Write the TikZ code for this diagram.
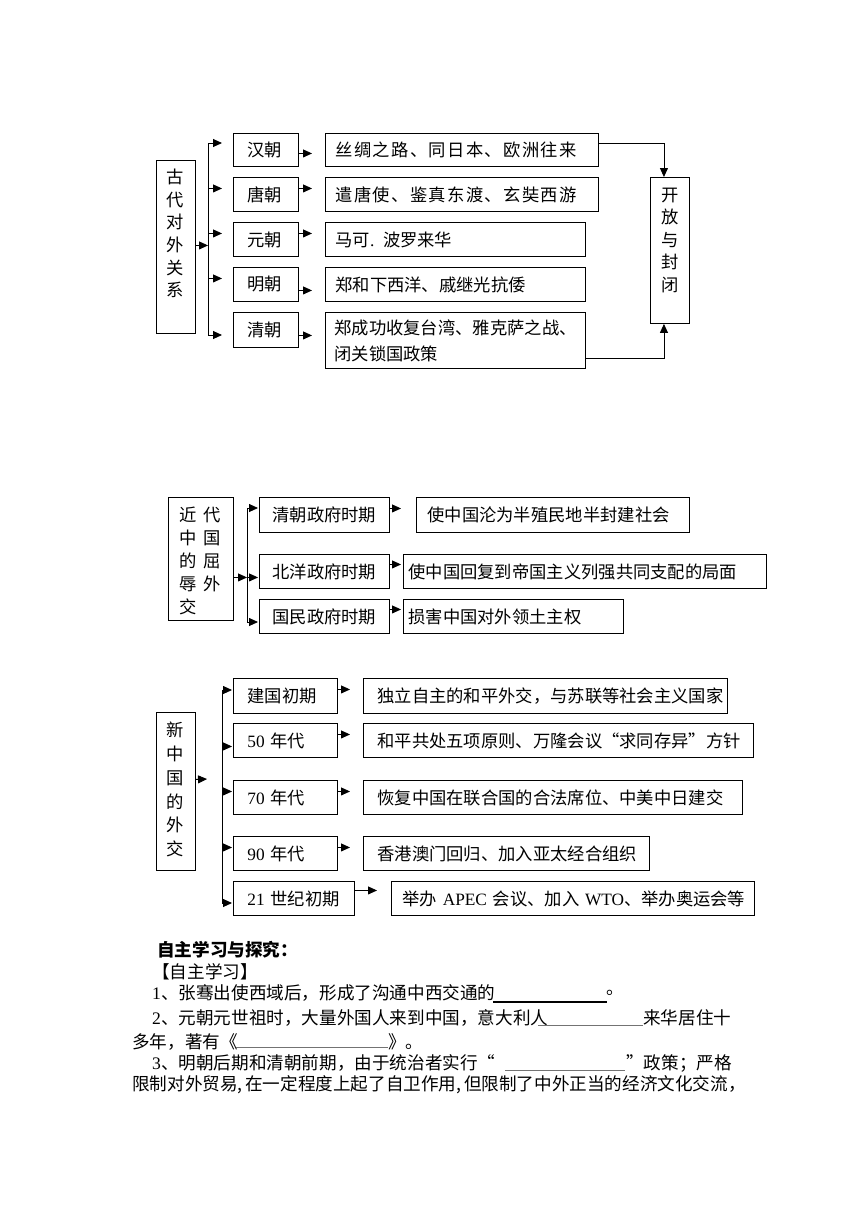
\documentclass[tikz,border=0pt]{standalone}
\usepackage{fontspec}
\setmainfont{Noto Sans CJK SC}
\newfontfamily\tms{Liberation Serif}
\newfontfamily\cjkls[LetterSpace=8]{Noto Sans CJK SC}
\usetikzlibrary{arrows.meta}
\tikzset{
 box/.style={draw, line width=0.9pt, anchor=north west, inner ysep=0pt, align=left, font=\fontsize{17.3}{23}\selectfont},
 vtxt/.style={align=center, inner sep=0pt, font=\fontsize{17.3}{22.7}\selectfont},
 arr/.style={line width=0.9pt, -{Triangle[length=9pt,width=8pt]}},
 ln/.style={line width=0.9pt},
 body/.style={anchor=west, inner sep=0pt, font=\fontsize{17.6}{22}\selectfont},
 uline/.style={line width=0.6pt, draw=black!55},
}
\begin{document}
\begin{tikzpicture}[x=1pt,y=-1pt]
\fill[white] (0,0) rectangle (860,1216);
\useasboundingbox (0,0) rectangle (860,1216);

% ---------------- top diagram ----------------
\node[box, minimum width=39pt, minimum height=173pt] (gudai) at (156,160) {};
\node[vtxt] (gudaiT) at (175.5,233.5) {古\\代\\对\\外\\关\\系};

\node[box, minimum width=65pt, minimum height=33pt, inner xsep=14pt, text width=37pt] (han) at (233,133) {汉朝};
\node[box, minimum width=65pt, minimum height=34pt, inner xsep=14pt, text width=37pt] (tang) at (233,177) {唐朝};
\node[box, minimum width=65pt, minimum height=34pt, inner xsep=14pt, text width=37pt] (yuan) at (233,222) {元朝};
\node[box, minimum width=65pt, minimum height=34pt, inner xsep=14pt, text width=37pt] (ming) at (233,267) {明朝};
\node[box, minimum width=65pt, minimum height=35pt, inner xsep=14pt, text width=37pt] (qing) at (233,312) {清朝};

\node[box, minimum width=273pt, minimum height=33pt, inner xsep=10pt, text width=253pt] (hanc) at (325,133) {\cjkls 丝绸之路、同日本、欧洲往来};
\node[box, minimum width=273pt, minimum height=34pt, inner xsep=10pt, text width=253pt] (tangc) at (325,177) {\cjkls 遣唐使、鉴真东渡、玄奘西游};
\node[box, minimum width=260pt, minimum height=34pt, inner xsep=10pt, text width=240pt] (yuanc) at (325,222) {马可{\tms .} 波罗来华};
\node[box, minimum width=260pt, minimum height=34pt, inner xsep=10pt, text width=240pt] (mingc) at (325,267) {郑和下西洋、戚继光抗倭};
\node[box, minimum width=260pt, minimum height=56pt, inner xsep=9pt, text width=242pt, font=\fontsize{17.3}{26}\selectfont] (qingc) at (325,312) {郑成功收复台湾、雅克萨之战、\\闭关锁国政策};

\node[box, minimum width=39pt, minimum height=146pt] (kf) at (650,177) {};
\node[vtxt, font=\fontsize{17.3}{22.5}\selectfont] (kfT) at (670,240) {开\\放\\与\\封\\闭};

\coordinate (b1t) at (208,143);
\coordinate (b1b) at (208,335);
\draw[ln] (b1t) -- (b1b);
\draw[arr] ([yshift=1.5pt]gudai.east) -- ([yshift=1.5pt]gudai.east -| b1t);
\draw[arr, shorten >=11pt] (b1t) -- (b1t -| han.west);
\draw[arr, shorten >=11pt] ([yshift=6pt]tang.west -| b1t) -- ([yshift=6pt]tang.west);
\draw[arr, shorten >=11pt] ([yshift=6pt]yuan.west -| b1t) -- ([yshift=6pt]yuan.west);
\draw[arr, shorten >=11pt] ([yshift=6pt]ming.west -| b1t) -- ([yshift=6pt]ming.west);
\draw[arr, shorten >=11pt] (b1b) -- (b1b -| qing.west);

\draw[arr, shorten >=13pt] ([yshift=-3.5pt]han.east) -- ([yshift=-3.5pt]han.east -| hanc.west);
\draw[arr, shorten >=13pt] ([yshift=6pt]tang.east) -- ([yshift=6pt]tang.east -| tangc.west);
\draw[arr, shorten >=13pt] ([yshift=6pt]yuan.east) -- ([yshift=6pt]yuan.east -| yuanc.west);
\draw[arr, shorten >=13pt] ([yshift=-6pt]ming.east) -- ([yshift=-6pt]ming.east -| mingc.west);
\draw[arr, shorten >=13pt] ([yshift=-5.5pt]qing.east) -- ([yshift=-5.5pt]qing.east -| qingc.west);

\draw[arr] ([yshift=6.5pt]hanc.east) -| ([xshift=-6pt]kf.north);
\draw[arr] ([yshift=-18pt]qingc.east) -| ([xshift=-6pt]kf.south);

% ---------------- middle diagram ----------------
\node[box, minimum width=65pt, minimum height=123pt] (jd) at (168,497) {};
\node[vtxt, align=left, anchor=west, font=\fontsize{17.3}{23}\selectfont] (jdT) at (179,561) {近\hspace{7pt}代\\中\hspace{7pt}国\\的\hspace{7pt}屈\\辱\hspace{7pt}外\\交};

\node[box, minimum width=130pt, minimum height=35pt, inner xsep=13pt, text width=104pt] (qz) at (259,497) {清朝政府时期};
\node[box, minimum width=130pt, minimum height=34pt, inner xsep=13pt, text width=104pt] (by) at (259,554) {北洋政府时期};
\node[box, minimum width=130pt, minimum height=34pt, inner xsep=13pt, text width=104pt] (gm) at (259,599) {国民政府时期};

\node[box, minimum width=273pt, minimum height=35pt, inner xsep=11pt, text width=251pt] (qzc) at (416,497) {使中国沦为半殖民地半封建社会};
\node[box, minimum width=363pt, minimum height=34pt, inner xsep=5pt, text width=353pt] (byc) at (403,554) {使中国回复到帝国主义列强共同支配的局面};
\node[box, minimum width=220pt, minimum height=34pt, inner xsep=5pt, text width=210pt] (gmc) at (403,599) {损害中国对外领土主权};

\coordinate (b2t) at (247,508);
\coordinate (b2b) at (247,622);
\draw[ln] (b2t) -- (b2b);
\draw[arr] ([yshift=-18.5pt]jd.east) -- ([yshift=-18.5pt]jd.east -| b2t);
\draw[arr, shorten >=1pt] (b2t) -- (b2t -| qz.west);
\draw[arr, shorten >=1pt] ([yshift=-6pt]by.west -| b2t) -- ([yshift=-6pt]by.west);
\draw[arr, shorten >=1pt] (b2b) -- (b2b -| gm.west);

\draw[arr, shorten >=15pt] ([yshift=6.5pt]qz.east) -- ([yshift=6.5pt]qz.east -| qzc.west);
\draw[arr, shorten >=2pt] ([yshift=7pt]by.east) -- ([yshift=7pt]by.east -| byc.west);
\draw[arr, shorten >=2pt] ([yshift=7pt]gm.east) -- ([yshift=7pt]gm.east -| gmc.west);

% ---------------- bottom diagram ----------------
\node[box, minimum width=39pt, minimum height=158pt] (xin) at (156,712) {};
\node[vtxt, font=\fontsize{17.3}{23.8}\selectfont] (xinT) at (175.5,789.5) {新\\中\\国\\的\\外\\交};

\node[box, minimum width=104pt, minimum height=35pt, inner xsep=14pt, text width=76pt] (jg) at (233,678) {建国初期};
\node[box, minimum width=104pt, minimum height=34pt, inner xsep=14pt, text width=76pt] (s50) at (233,723) {\mbox{{\tms 50} 年代}};
\node[box, minimum width=104pt, minimum height=34pt, inner xsep=14pt, text width=76pt] (s70) at (233,780) {\mbox{{\tms 70} 年代}};
\node[box, minimum width=104pt, minimum height=34pt, inner xsep=14pt, text width=76pt] (s90) at (233,836) {\mbox{{\tms 90} 年代}};
\node[box, minimum width=121pt, minimum height=34pt, inner xsep=14pt, text width=93pt] (s21) at (233,881) {\mbox{{\tms 21} 世纪初期}};

\node[box, minimum width=364pt, minimum height=35pt, inner xsep=14pt, text width=336pt] (jgc) at (363,678) {独立自主的和平外交，与苏联等社会主义国家};
\node[box, minimum width=390pt, minimum height=34pt, inner xsep=14pt, text width=362pt] (c50) at (363,723) {和平共处五项原则、万隆会议“求同存异”方针};
\node[box, minimum width=379pt, minimum height=34pt, inner xsep=14pt, text width=351pt] (c70) at (363,780) {恢复中国在联合国的合法席位、中美中日建交};
\node[box, minimum width=286pt, minimum height=34pt, inner xsep=14pt, text width=258pt] (c90) at (363,836) {香港澳门回归、加入亚太经合组织};
\node[box, minimum width=363pt, minimum height=34pt, inner xsep=11pt, text width=341pt] (c21) at (391,881) {\mbox{举办 {\tms APEC} 会议、加入 {\tms WTO}、举办奥运会等}};

\coordinate (b3t) at (222,690);
\coordinate (b3b) at (222,903);
\draw[ln] (b3t) -- (b3b);
\coordinate (xend) at (207,779);
\draw[arr] ([yshift=12pt]xin.east) -- (xend);
\draw[arr, shorten >=1pt] (b3t) -- (b3t -| jg.west);
\draw[arr, shorten >=1pt] ([yshift=-6pt]s50.west -| b3t) -- ([yshift=-6pt]s50.west);
\draw[arr, shorten >=1pt] ([yshift=6pt]s70.west -| b3t) -- ([yshift=6pt]s70.west);
\draw[arr, shorten >=1pt] ([yshift=6pt]s90.west -| b3t) -- ([yshift=6pt]s90.west);
\draw[arr, shorten >=1pt] (b3b) -- (b3b -| s21.west);

\draw[arr, shorten >=13pt] ([yshift=6.5pt]jg.east) -- ([yshift=6.5pt]jg.east -| jgc.west);
\draw[arr, shorten >=13pt] ([yshift=6pt]s50.east) -- ([yshift=6pt]s50.east -| c50.west);
\draw[arr, shorten >=13pt] ([yshift=6pt]s70.east) -- ([yshift=6pt]s70.east -| c70.west);
\draw[arr, shorten >=13pt] ([yshift=6pt]s90.east) -- ([yshift=6pt]s90.east -| c90.west);
\draw[arr, shorten >=14pt] ([yshift=8pt]s21.east) -- ([yshift=8pt]s21.east -| c21.west);

% ---------------- text ----------------
\node[body, font=\bfseries\fontsize{17.6}{22}\selectfont] (h1) at (157,950) {自主学习与探究：};
\node[body] (h2) at (152,972) {【自主学习】};

\node[body] (l1) at (152,993) {{\tms 1}、张骞出使西域后，形成了沟通中西交通的};
\draw[line width=1.3pt] (493,1002) -- (607,1002);
\node[body] (l1b) at (606,993) {。};

\node[body] (l2) at (152,1018) {{\tms 2}、元朝元世祖时，大量外国人来到中国，意大利人};
\draw[uline] (538,1025) -- (643,1025);
\node[body] (l2b) at (643,1018) {来华居住十};

\node[body] (l3) at (132,1042) {多年，著有《};
\draw[uline] (236,1047) -- (388,1047);
\node[body] (l3b) at (388,1042) {》。};

\node[body] (l4) at (152,1063) {{\tms 3}、明朝后期和清朝前期，由于统治者实行“};
\draw[uline] (505,1070) -- (625,1070);
\node[body] (l4b) at (626,1063) {”政策；严格};

\node[body] (l5) at (132,1085) {\makebox[595pt][s]{限制对外贸易,\ 在一定程度上起了自卫作用,\ 但限制了中外正当的经济文化交流，}};
\end{tikzpicture}
\end{document}
